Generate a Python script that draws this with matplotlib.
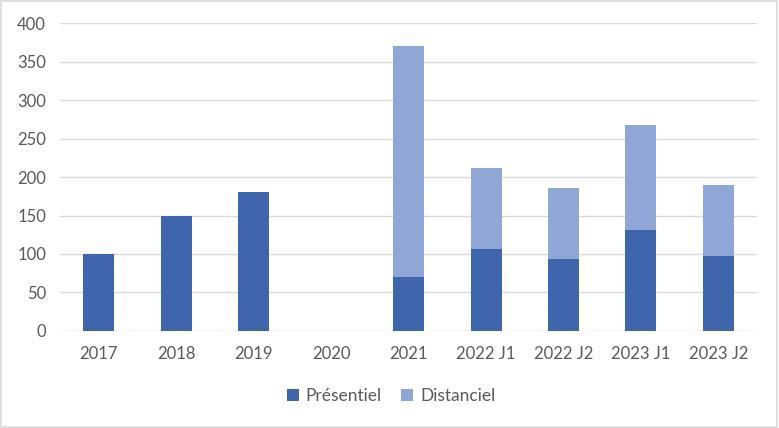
import numpy as np
import matplotlib.pyplot as plt
from matplotlib.patches import Rectangle

categories = ["2017", "2018", "2019", "2020", "2021", "2022 J1", "2022 J2", "2023 J1", "2023 J2"]
presentiel = [100, 150, 180, 0, 70, 106, 93, 131, 98]
distanciel = [0, 0, 0, 0, 300, 106, 93, 137, 92]

plt.rcParams['font.family'] = ['Lato', 'DejaVu Sans']

fig = plt.figure(figsize=(7.79, 4.28), dpi=100)
ax = fig.add_axes([0.077, 0.227, 0.895, 0.7185])

x = np.arange(len(categories))
c_pres = "#3F65AD"
c_dist = "#8FA6D6"
ax.bar(x, presentiel, width=0.4, color=c_pres, label="Présentiel", zorder=3)
ax.bar(x, distanciel, width=0.4, bottom=presentiel, color=c_dist, label="Distanciel", zorder=3)

ax.set_xlim(-0.5, len(categories) - 0.5)
ax.set_ylim(0, 400)
ax.set_yticks(range(0, 401, 50))
ax.set_xticks(x)
ax.set_xticklabels(categories)
ax.grid(axis="y", color="#D9D9D9", linewidth=1, zorder=0)
for s in ax.spines.values():
    s.set_visible(False)
ax.tick_params(axis="both", length=0, labelsize=12, labelcolor="#595959")
ax.tick_params(axis="x", pad=11)
ax.tick_params(axis="y", pad=10)

# legend centred under the plot
ax.legend(loc="center", bbox_to_anchor=(0.502, 1 - 396 / 428), bbox_transform=fig.transFigure,
          frameon=False, ncol=2, fontsize=12.5, labelcolor="#595959",
          handlelength=0.7, handleheight=0.7, columnspacing=1.1, handletextpad=0.4)

fig.patches.append(Rectangle((0.001, 0.002), 0.997, 0.996, transform=fig.transFigure,
                             fill=False, edgecolor="#D9D9D9", linewidth=1.2))

fig.savefig("out.png", dpi=100)
